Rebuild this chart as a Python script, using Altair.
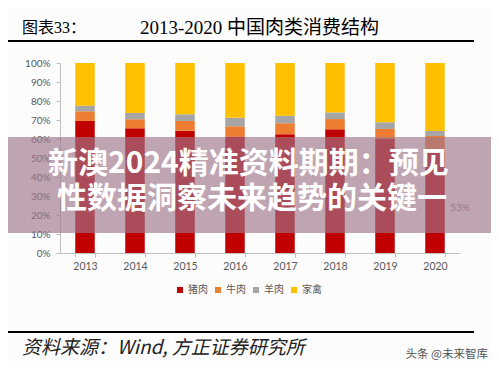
import altair as alt
import pandas as pd

years = ["2013", "2014", "2015", "2016", "2017", "2018", "2019", "2020"]
categories = ["猪肉", "牛肉", "羊肉", "家禽"]
pork = [69.5, 65.6, 64.4, 61.3, 62.5, 65.1, 60.0, 53.0]
beef = [5.1, 4.8, 5.1, 5.4, 5.8, 5.4, 5.3, 8.6]
mutton = [2.9, 3.3, 3.5, 4.5, 4.0, 3.5, 3.5, 2.6]
poultry = [22.5, 26.3, 27.0, 28.8, 27.7, 26.0, 31.2, 35.8]
colors = ["#C00000", "#ED7D31", "#A5A5A5", "#FFC000"]
y_ticks = [0, 0.1, 0.2, 0.3, 0.4, 0.5, 0.6, 0.7, 0.8, 0.9, 1.0]

rows = []
for i, yr in enumerate(years):
    for k, (cat, vals) in enumerate(zip(categories, [pork, beef, mutton, poultry])):
        rows.append({"year": yr, "meat": cat, "share": vals[i], "k": k})
df = pd.DataFrame(rows)

lab_df = pd.DataFrame([{"year": years[-1], "share": pork[-1] / 200.0, "txt": f"{int(round(pork[-1]))}%"}])
dummy = pd.DataFrame([{"a": 1}])

xscale = alt.Scale(domain=years, paddingInner=0.61, paddingOuter=0.305)
yscale = alt.Scale(domain=[0, 1])
xaxis = alt.Axis(labelAngle=0, tickBand="extent", tickSize=4, labelPadding=4,
                 domainColor="#bfbfbf", tickColor="#bfbfbf", labelColor="#595959",
                 labelFont="Lato", labelFontSize=10.5, grid=False)
yaxis = alt.Axis(format="%", values=y_ticks, tickSize=4, labelPadding=6, labelOverlap=False,
                 domainColor="#bfbfbf", tickColor="#bfbfbf", labelColor="#595959",
                 labelFont="Lato", labelFontSize=10, grid=False)

bars = alt.Chart(df).mark_bar().encode(
    x=alt.X("year:N", title=None, sort=years, scale=xscale, axis=xaxis),
    y=alt.Y("share:Q", stack="normalize", title=None, scale=yscale, axis=yaxis),
    color=alt.Color("meat:N", sort=categories,
                    scale=alt.Scale(domain=categories, range=colors),
                    legend=alt.Legend(title=None, orient="none", direction="horizontal",
                                      legendX=115, legendY=222, symbolType="square",
                                      symbolSize=36, symbolStrokeWidth=0, labelFont="Noto Sans CJK SC",
                                      labelFontSize=10, labelColor="#595959", columnPadding=5,
                                      labelOffset=3)),
    order=alt.Order("k:Q", sort="ascending"),
)

label = alt.Chart(lab_df).mark_text(font="Lato", fontSize=10, color="#7f7f7f", dx=25, dy=5).encode(
    x=alt.X("year:N", sort=years, scale=xscale, title=None, axis=xaxis),
    y=alt.Y("share:Q", scale=yscale, stack=None, title=None, axis=yaxis),
    text="txt:N",
)

def txt(s, x, y, size, color="#000000", font="Noto Sans CJK SC", weight="normal", style="normal", align="left"):
    return alt.Chart(dummy).mark_text(align=align, baseline="middle", fontSize=size, color=color,
                                      font=font, fontWeight=weight, fontStyle=style).encode(
        x=alt.value(x), y=alt.value(y), text=alt.value(s))

title1 = txt("图表33：", -38, -35, 16, font="Liberation Serif, Noto Sans CJK SC")
title2 = txt("2013-2020 中国肉类消费结构", 80, -35, 19, font="Liberation Serif, Noto Sans CJK SC")
top_line = alt.Chart(dummy).mark_rule(color="#000000", strokeWidth=2).encode(
    x=alt.value(-52), x2=alt.value(414), y=alt.value(-22))
bot_line = alt.Chart(dummy).mark_rule(color="#000000", strokeWidth=2).encode(
    x=alt.value(-52), x2=alt.value(414), y=alt.value(269))
source = txt("资料来源：Wind, 方正证券研究所", -38, 285, 19, color="#222222", style="italic")
mark = txt("头条 @未来智库", 428, 292, 11.5, color="#555555", align="right")

band = alt.Chart(dummy).mark_rect(color="#9e748b", opacity=0.65).encode(
    x=alt.value(-52), x2=alt.value(431), y=alt.value(74), y2=alt.value(170))
ov1 = txt("新澳2024精准资料期期：预见", -12, 101, 30, color="#ffffff", weight="bold")
ov2 = txt("性数据洞察未来趋势的关键一", -3, 136, 30, color="#ffffff", weight="bold")

chart = alt.layer(bars, label, title1, title2, top_line, bot_line, source, mark, band, ov1, ov2).properties(
    width=400, height=190,
    padding={"left": 52, "top": 55, "right": 31, "bottom": 108},
    autosize=alt.AutoSizeParams(type="none"),
    background="#fcfcfd",
).configure_view(stroke=None)

chart.save("out.html", embed_options={"renderer": "svg", "actions": False})
